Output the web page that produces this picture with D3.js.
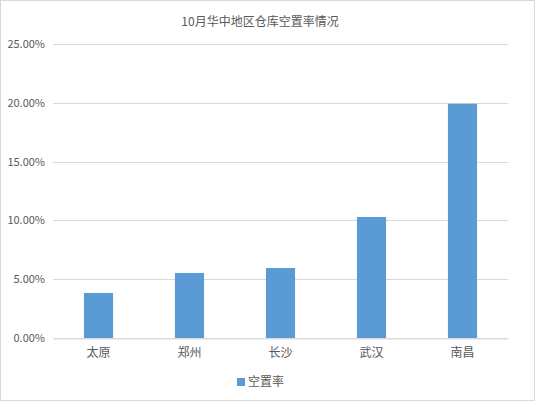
<!DOCTYPE html>
<html>
<head>
<meta charset="utf-8">
<script src="https://cdn.jsdelivr.net/npm/d3@7"></script>
<style>
  body { margin: 0; background: #fff; }
  svg text { font-family: "Microsoft YaHei", "Noto Sans CJK SC", sans-serif; fill: #595959; }
</style>
</head>
<body>
<div id="chart"></div>
<script>
// Data
const cities = ["太原", "郑州", "长沙", "武汉", "南昌"];
const vacancy = [0.0383, 0.0553, 0.0595, 0.1029, 0.1992];
const yTicks = [0, 0.05, 0.10, 0.15, 0.20, 0.25];
const seriesName = "空置率";
const title = "10月华中地区仓库空置率情况";

const W = 535, H = 401;
const margin = {top: 44, right: 27, bottom: 63, left: 53};
const width = W - margin.left - margin.right;
const height = H - margin.top - margin.bottom;

const root = d3.select("#chart")
    .append("svg")
    .attr("width", W)
    .attr("height", H);

// Outer border
root.append("rect")
    .attr("x", 0.5).attr("y", 0.5)
    .attr("width", W - 1).attr("height", H - 1)
    .attr("fill", "#fff")
    .attr("stroke", "#d9d9d9");

// Title
root.append("text")
    .attr("x", 260)
    .attr("y", 26)
    .attr("text-anchor", "middle")
    .style("font-size", "12px")
    .text(title);

const svg = root.append("g")
    .attr("transform", `translate(${margin.left}, ${margin.top})`);

// Scales
const x = d3.scaleBand()
    .domain(cities)
    .range([0, width])
    .padding(0);

const y = d3.scaleLinear()
    .domain([0, 0.25])
    .range([height, 0]);

// Gridlines
svg.selectAll(".grid")
    .data(yTicks)
    .enter()
    .append("line")
    .attr("x1", 0)
    .attr("x2", width)
    .attr("y1", d => Math.round(y(d)) + 0.5)
    .attr("y2", d => Math.round(y(d)) + 0.5)
    .attr("stroke", "#d9d9d9")
    .attr("stroke-width", 1);

// Y axis labels
const yAxis = svg.append("g")
    .call(d3.axisLeft(y).tickValues(yTicks).tickFormat(d3.format(".2%")).tickSize(0).tickPadding(8));
yAxis.select(".domain").remove();
yAxis.selectAll("text")
    .style("font-size", "11px")
    .style("fill", "#595959");

// Bars
const barW = x.bandwidth() * 0.32;
svg.selectAll(".bar")
    .data(cities)
    .enter()
    .append("rect")
    .attr("class", "bar")
    .attr("x", d => x(d) + (x.bandwidth() - barW) / 2)
    .attr("y", (d, i) => y(vacancy[i]))
    .attr("width", barW)
    .attr("height", (d, i) => height - y(vacancy[i]))
    .attr("fill", "#5b9bd5");

// X axis
const xAxis = svg.append("g")
    .attr("transform", `translate(0, ${height})`)
    .call(d3.axisBottom(x).tickSize(0).tickPadding(10));
xAxis.select(".domain")
    .attr("stroke", "#d9d9d9")
    .attr("transform", "translate(0,0.5)");
xAxis.selectAll("text")
    .style("font-size", "12px")
    .style("fill", "#595959");

// Legend
const legend = root.append("g")
    .attr("transform", "translate(237, 378)");
legend.append("rect")
    .attr("width", 8)
    .attr("height", 8)
    .attr("fill", "#5b9bd5");
legend.append("text")
    .attr("x", 11)
    .attr("y", 4)
    .attr("dy", "0.35em")
    .style("font-size", "12px")
    .text(seriesName);
</script>
</body>
</html>
